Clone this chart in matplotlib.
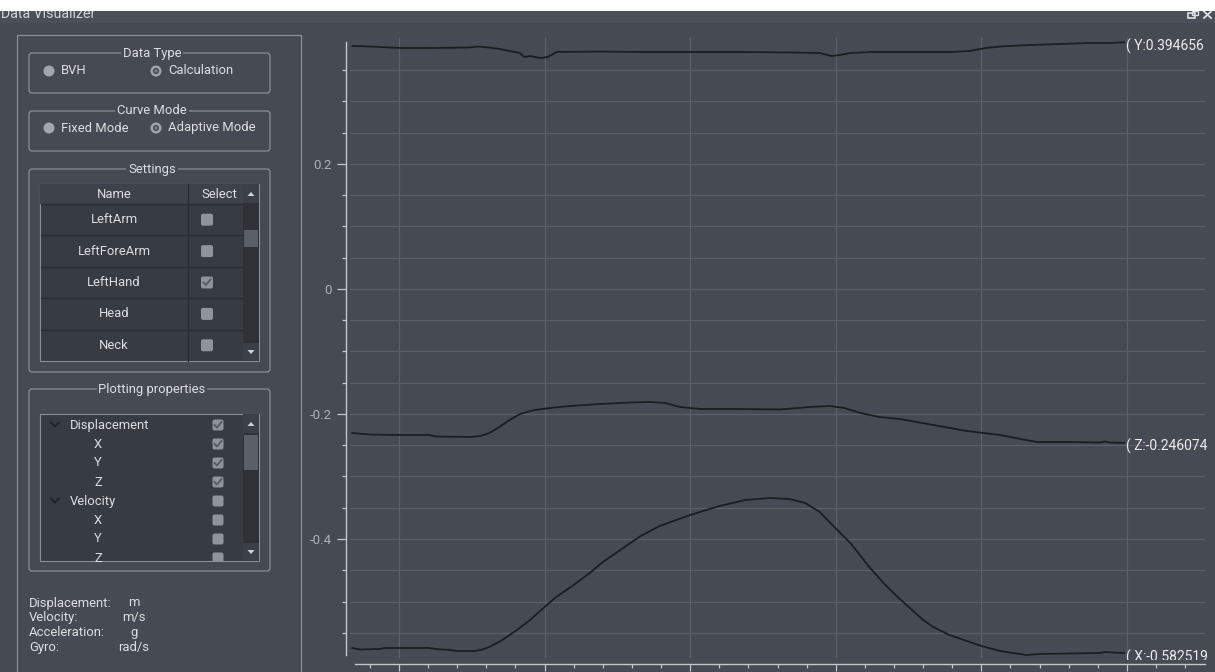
import matplotlib
matplotlib.use("Agg")
import matplotlib.pyplot as plt
from matplotlib.patches import Rectangle, FancyBboxPatch, Circle, Polygon
from matplotlib.ticker import FixedLocator, MultipleLocator
from matplotlib.transforms import Bbox, ScaledTranslation

plt.rcParams['font.family'] = ['Roboto', 'DejaVu Sans']

# LeftHand displacement (m) against frame number
y_frames = [168, 180, 194, 201, 221, 249, 254, 262, 269, 276, 283, 286, 290, 297, 302, 306, 308,
            338, 366, 400, 434, 469, 489, 497, 503, 510, 524, 544, 578, 592, 603, 613, 633, 654,
            675, 688, 698]
y_disp = [0.3888, 0.3880, 0.3864, 0.3856, 0.3856, 0.3864, 0.3880, 0.3864, 0.3840, 0.3808, 0.3776,
          0.3712, 0.3728, 0.3696, 0.3712, 0.3760, 0.3792, 0.3800, 0.3792, 0.3792, 0.3792, 0.3784,
          0.3776, 0.3728, 0.3744, 0.3776, 0.3792, 0.3792, 0.3792, 0.3808, 0.3856, 0.3880, 0.3904,
          0.3920, 0.3936, 0.3936, 0.394656]

z_frames = [168, 180, 201, 221, 225, 249, 256, 262, 269, 276, 283, 293, 304, 317, 338, 359, 372,
            383, 393, 407, 434, 462, 482, 496, 506, 517, 530, 544, 567, 590, 613, 627, 638, 661,
            681, 685, 688, 698]
z_disp = [-0.2304, -0.2328, -0.2336, -0.2336, -0.2360, -0.2368, -0.2352, -0.2304, -0.2208, -0.2096,
          -0.2000, -0.1936, -0.1904, -0.1872, -0.1840, -0.1816, -0.1808, -0.1824, -0.1888, -0.1920,
          -0.1920, -0.1928, -0.1888, -0.1872, -0.1904, -0.1984, -0.2048, -0.2080, -0.2176, -0.2272,
          -0.2336, -0.2400, -0.2448, -0.2448, -0.2456, -0.2440, -0.2456, -0.246074]

x_frames = [168, 173, 187, 190, 221, 225, 235, 240, 252, 256, 258, 262, 271, 281, 290, 300, 308,
            320, 331, 340, 352, 366, 379, 400, 420, 438, 455, 468, 479, 489, 499, 510, 523, 534,
            544, 560, 567, 578, 600, 613, 631, 640, 681, 685, 698]
x_disp = [-0.5744, -0.5768, -0.5760, -0.5744, -0.5744, -0.5760, -0.5776, -0.5792, -0.5792, -0.5776,
          -0.5760, -0.5728, -0.5616, -0.5456, -0.5296, -0.5088, -0.4928, -0.4736, -0.4544, -0.4368,
          -0.4176, -0.3952, -0.3792, -0.3616, -0.3472, -0.3376, -0.3344, -0.3360, -0.3424, -0.3568,
          -0.3808, -0.4064, -0.4448, -0.4736, -0.4960, -0.5296, -0.5408, -0.5536, -0.5712, -0.5792,
          -0.5856, -0.5840, -0.5824, -0.5808, -0.582519]

y_major = [-0.4, -0.2, 0, 0.2]
y_major_labels = ['-0.4', '-0.2', '0', '0.2']
y_minor = [-0.55, -0.5, -0.45, -0.35, -0.3, -0.25, -0.15, -0.1, -0.05,
           0.05, 0.1, 0.15, 0.25, 0.3, 0.35]

# side panel contents
settings_names = ['LeftArm', 'LeftForeArm', 'LeftHand', 'Head', 'Neck']
settings_checked = [False, False, True, False, False]
tree_names = ['Displacement', 'X', 'Y', 'Z', 'Velocity', 'X', 'Y', 'Z']
tree_is_group = [True, False, False, False, True, False, False, False]
tree_checked = [True, True, True, True, False, False, False, False]
unit_names = ['Displacement:', 'Velocity:', 'Acceleration:', 'Gyro:']
unit_symbols = ['m', 'm/s', 'g', 'rad/s']

BG = '#464b53'
BORDER = '#8a8f96'
TXT = '#dcdee1'
TABLE_BG = '#373b42'
HEAD_BG = '#3e424a'
SEP = '#2a2d32'
TRACK = '#2e3136'
THUMB = '#5b6068'
BOX = '#8f949b'
LINE = '#1b1d21'
SPINE = '#c3c7cc'
GRID = '#596068'
FS = 9.4

W, H = 1215, 672
fig = plt.figure(figsize=(W / 100, H / 100), dpi=100, facecolor=BG)

# ---------- side panel drawn in pixel coordinates ----------
ui = fig.add_axes([0, 0, 1, 1])
ui.set_xlim(0, W)
ui.set_ylim(H, 0)
ui.axis('off')

ui.add_patch(Rectangle((0, 10), W, 13, fc='#4b5058', ec='none'))
ui.text(1, 18.5, 'Data Visualizer', color='#d0d3d7', fontsize=10.2, va='baseline')
ui.add_patch(Rectangle((0, 0), W, 10.5, fc='white', ec='none', zorder=5))
ui.add_patch(Rectangle((1188, 13), 7, 5, fc='none', ec='#dcdfe2', lw=1.2))
ui.add_patch(Rectangle((1192, 11), 6, 4, fc='none', ec='#dcdfe2', lw=1.0))
ui.plot([1204, 1211], [11.5, 18], color='#dcdfe2', lw=1.3)
ui.plot([1204, 1211], [18, 11.5], color='#dcdfe2', lw=1.3)

ui.add_patch(Rectangle((17, 35), 284, 700, fc='none', ec=BORDER, lw=0.9))


def group(y0, y1, title):
    ui.add_patch(FancyBboxPatch((29, y0), 241, y1 - y0, boxstyle='round,pad=0,rounding_size=3',
                                fc='none', ec=BORDER, lw=0.9))
    ui.text(152, y0, title, ha='center', va='center', color=TXT, fontsize=FS,
            bbox=dict(fc=BG, ec='none', pad=1.2))


def radio(x, y, label, selected):
    ui.add_patch(Circle((x, y), 5.5, fc='#a3a7ad', ec='none'))
    if selected:
        ui.add_patch(Circle((x, y), 3.2, fc='#4e535a', ec='none'))
        ui.add_patch(Circle((x, y), 1.4, fc='#7d828a', ec='none'))
    ui.text(x + 12, y, label, va='center', color=TXT, fontsize=FS)


def checkbox(x, y, checked, size=12, clip=None):
    p = FancyBboxPatch((x - size / 2, y - size / 2), size, size,
                       boxstyle='round,pad=0,rounding_size=2', fc=BOX, ec='none')
    ui.add_patch(p)
    if clip is not None:
        p.set_clip_path(clip)
    if checked:
        ui.plot([x - 3.5, x - 1, x + 3.5], [y, y + 2.5, y - 3], color='#555a60', lw=1.3)


def scrollbar(x, y0, y1, t0, t1):
    ui.add_patch(Rectangle((x, y0), 16, y1 - y0, fc=TRACK, ec='none'))
    ui.add_patch(Rectangle((x, y0), 16, 19, fc='#3b3f46', ec='none'))
    ui.add_patch(Rectangle((x, y1 - 18), 16, 18, fc='#3b3f46', ec='none'))
    ui.add_patch(Polygon([(x + 4.5, y0 + 12), (x + 11.5, y0 + 12), (x + 8, y0 + 8)], fc='#d0d3d7'))
    ui.add_patch(Polygon([(x + 4.5, y1 - 11), (x + 11.5, y1 - 11), (x + 8, y1 - 7)], fc='#d0d3d7'))
    ui.add_patch(Rectangle((x + 1, t0), 14, t1 - t0, fc=THUMB, ec='none'))


group(53, 93, 'Data Type')
radio(49, 71, 'BVH', False)
radio(156, 71, 'Calculation', True)

group(111, 151, 'Curve Mode')
radio(49, 128, 'Fixed Mode', False)
radio(156, 128, 'Adaptive Mode', True)

group(169, 372, 'Settings')
ui.add_patch(Rectangle((40, 184), 219, 177, fc=TABLE_BG, ec=BORDER, lw=0.8))
ui.add_patch(Rectangle((40, 184), 203, 20, fc=HEAD_BG, ec='none'))
ui.text(114, 194, 'Name', ha='center', va='center', color=TXT, fontsize=FS)
ui.text(219, 194, 'Select', ha='center', va='center', color=TXT, fontsize=FS)
ui.plot([188, 188], [184, 361], color=SEP, lw=1)
row_h = (361 - 204) / len(settings_names)
for i, (name, chk) in enumerate(zip(settings_names, settings_checked)):
    yc = 204 + row_h * (i + 0.5)
    ui.text(114, yc, name, ha='center', va='center', color=TXT, fontsize=FS)
    checkbox(207, yc, chk)
    ui.plot([41, 243], [204 + row_h * i, 204 + row_h * i], color=SEP, lw=1)
scrollbar(243, 184, 361, 230, 247)

group(389, 571, 'Plotting properties')
tree_box = Rectangle((40, 414), 219, 147, fc=TABLE_BG, ec=BORDER, lw=0.8)
ui.add_patch(tree_box)
for i, (name, grp, chk) in enumerate(zip(tree_names, tree_is_group, tree_checked)):
    yc = 425 + 19 * i
    if grp:
        ui.plot([51, 55, 59], [yc - 2.5, yc + 1.5, yc - 2.5], color='#202327', lw=1.4)
        t = ui.text(70, yc, name, va='center', color=TXT, fontsize=FS)
    else:
        t = ui.text(98, yc, name, ha='center', va='center', color=TXT, fontsize=FS)
    t.set_clip_path(tree_box)
    checkbox(218, yc, chk, size=11, clip=tree_box)
scrollbar(243, 414, 561, 435, 470)

for i, (name, sym) in enumerate(zip(unit_names, unit_symbols)):
    yc = 603 + 14.7 * i
    ui.text(29, yc, name, va='center', color=TXT, fontsize=FS)
    ui.text(134, yc, sym, ha='center', va='center', color=TXT, fontsize=FS)

# ---------- curve plot ----------
ax = fig.add_axes([350 / W, (H - 658) / H, 855 / W, 621 / H], facecolor='none')
ax.set_xlim(166.35, 753.6)
ax.set_ylim(-0.5904, 0.4032)

for fr, val in [(y_frames, y_disp), (z_frames, z_disp), (x_frames, x_disp)]:
    ax.plot(fr, val, color=LINE, lw=1.3, zorder=3)

lo = min(min(x_disp), min(y_disp), min(z_disp))
hi = max(max(x_disp), max(y_disp), max(z_disp))

for s in ['top', 'right']:
    ax.spines[s].set_visible(False)
ax.spines['left'].set_position(('outward', 2.9))
ax.spines['left'].set_bounds(lo, hi)
ax.spines['bottom'].set_position(('outward', 4.3))
ax.spines['bottom'].set_bounds(169.8, 753.6)
for s in ['left', 'bottom']:
    ax.spines[s].set_color(SPINE)
    ax.spines[s].set_linewidth(1.0)

ax.yaxis.set_major_locator(FixedLocator(y_major))
ax.set_yticklabels(y_major_labels)
ax.yaxis.set_minor_locator(FixedLocator(y_minor))
ax.xaxis.set_major_locator(MultipleLocator(100))
ax.xaxis.set_minor_locator(MultipleLocator(20))
ax.tick_params(axis='y', which='major', length=6.5, width=0.9, color=SPINE,
               labelcolor='#aab0b8', labelsize=9.5, pad=3.5)
ax.tick_params(axis='y', which='minor', length=3.2, width=0.9, color=SPINE)
ax.tick_params(axis='x', which='major', length=5, width=0.9, color=SPINE, labelbottom=False)
ax.tick_params(axis='x', which='minor', length=3, width=0.9, color=SPINE)

ax.grid(which='both', axis='y', color=GRID, lw=0.9)
ax.grid(which='major', axis='x', color=GRID, lw=0.9)
ax.set_axisbelow(True)

shift = ax.transData + ScaledTranslation(0.02, -0.04, fig.dpi_scale_trans)
for name, fr, val in [('Y', y_frames, y_disp), ('Z', z_frames, z_disp), ('X', x_frames, x_disp)]:
    t = ax.text(fr[-1], val[-1], f'( {name}:{val[-1]:.6f}', transform=shift, ha='left',
                va='center', color='#ececec', fontsize=10, clip_on=False)
    if name == 'X':
        t.set_clip_on(True)
        t.set_clip_path(None)
        t.set_clip_box(Bbox([[0, H - 660], [W, H]]))

fig.savefig('out.png', dpi=100, facecolor=BG)
